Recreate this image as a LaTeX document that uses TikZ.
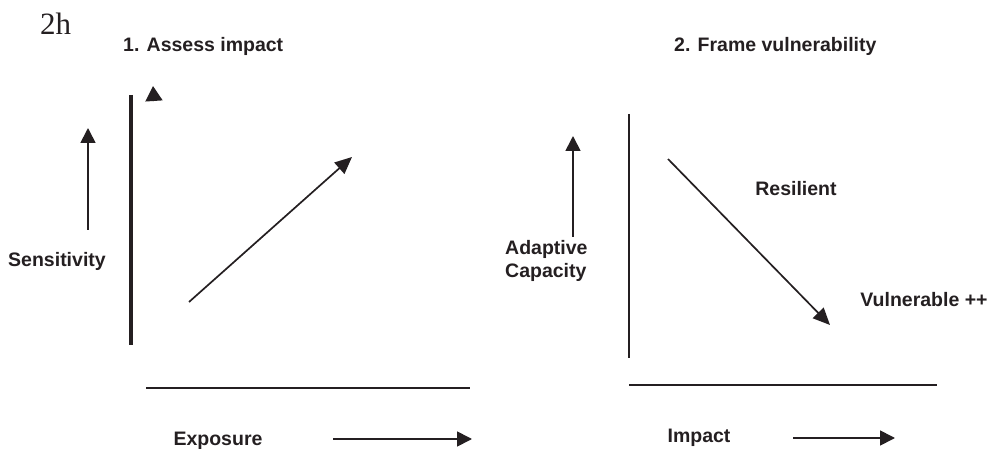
\documentclass[tikz,border=0pt]{standalone}
\usepackage{fontspec}
\usepackage{xcolor}
\usepackage{tikz}
\usetikzlibrary{arrows.meta}
\newfontfamily\labelfont{Liberation Sans}
\newfontfamily\tagfont{Liberation Serif}
\definecolor{ink}{rgb}{0.14,0.12,0.13}

\begin{document}
\begin{tikzpicture}[x=1pt, y=-1pt,
    lbl/.style={inner sep=0pt, text=ink, font=\labelfont\bfseries\fontsize{19.5}{23}\selectfont},
    axis/.style={draw=ink, line width=2.2pt},
    arrow/.style={-{Triangle[length=15pt, width=15pt]}, draw=ink, line width=1.7pt}
]
\useasboundingbox (0,0) rectangle (991,449);

\node[anchor=base west, inner sep=0pt, text=ink, font=\tagfont\fontsize{31}{31}\selectfont] (tag) at (40,35) {2h};

% panel 1
\node[lbl, anchor=base west] (assess) at (123,52) {1. Assess impact};
\node[lbl, anchor=base] (sens) at (57,266) {Sensitivity};
\node[lbl, anchor=base] (expo) at (218,445) {Exposure};

\coordinate (sensfrom) at (88,230);
\coordinate (sensto) at (88,128);
\coordinate (stubfrom) at (154,101);
\coordinate (stubto) at (153,86);
\coordinate (risefrom) at (189,302);
\coordinate (riseto) at (352,157);
\coordinate (expofrom) at (333,439);
\coordinate (expoto) at (472,439);

\draw[axis, line width=3.2pt] (131,95) -- (131,345);
\draw[axis] (146,388) -- (470,388);
\draw[arrow] (sensfrom) -- (sensto);
\draw[arrow, -{Triangle[length=15pt, width=17pt]}] (stubfrom) -- (stubto);
\draw[arrow, -{Triangle[length=17pt, width=15pt]}] (risefrom) -- (riseto);
\draw[arrow] (expofrom) -- (expoto);

% panel 2
\node[lbl, anchor=base west] (frame) at (674,52) {2. Frame vulnerability};
\node[lbl, anchor=west, align=left] (adapt) at (505,261) {Adaptive\\Capacity};
\node[lbl, anchor=base] (resil) at (796,196) {Resilient};
\node[lbl, anchor=base] (vuln) at (924,306) {Vulnerable ++};
\node[lbl, anchor=base] (imp) at (699,442) {Impact};

\coordinate (adaptfrom) at (573,237);
\coordinate (adaptto) at (573,136);
\coordinate (fallfrom) at (668,159);
\coordinate (fallto) at (830,325);
\coordinate (impfrom) at (793,438);
\coordinate (impto) at (895,438);

\draw[axis, line width=1.7pt] (629,114) -- (629,358);
\draw[axis] (629,385) -- (937,385);
\draw[arrow] (adaptfrom) -- (adaptto);
\draw[arrow, -{Triangle[length=17pt, width=15pt]}] (fallfrom) -- (fallto);
\draw[arrow] (impfrom) -- (impto);
\end{tikzpicture}
\end{document}
